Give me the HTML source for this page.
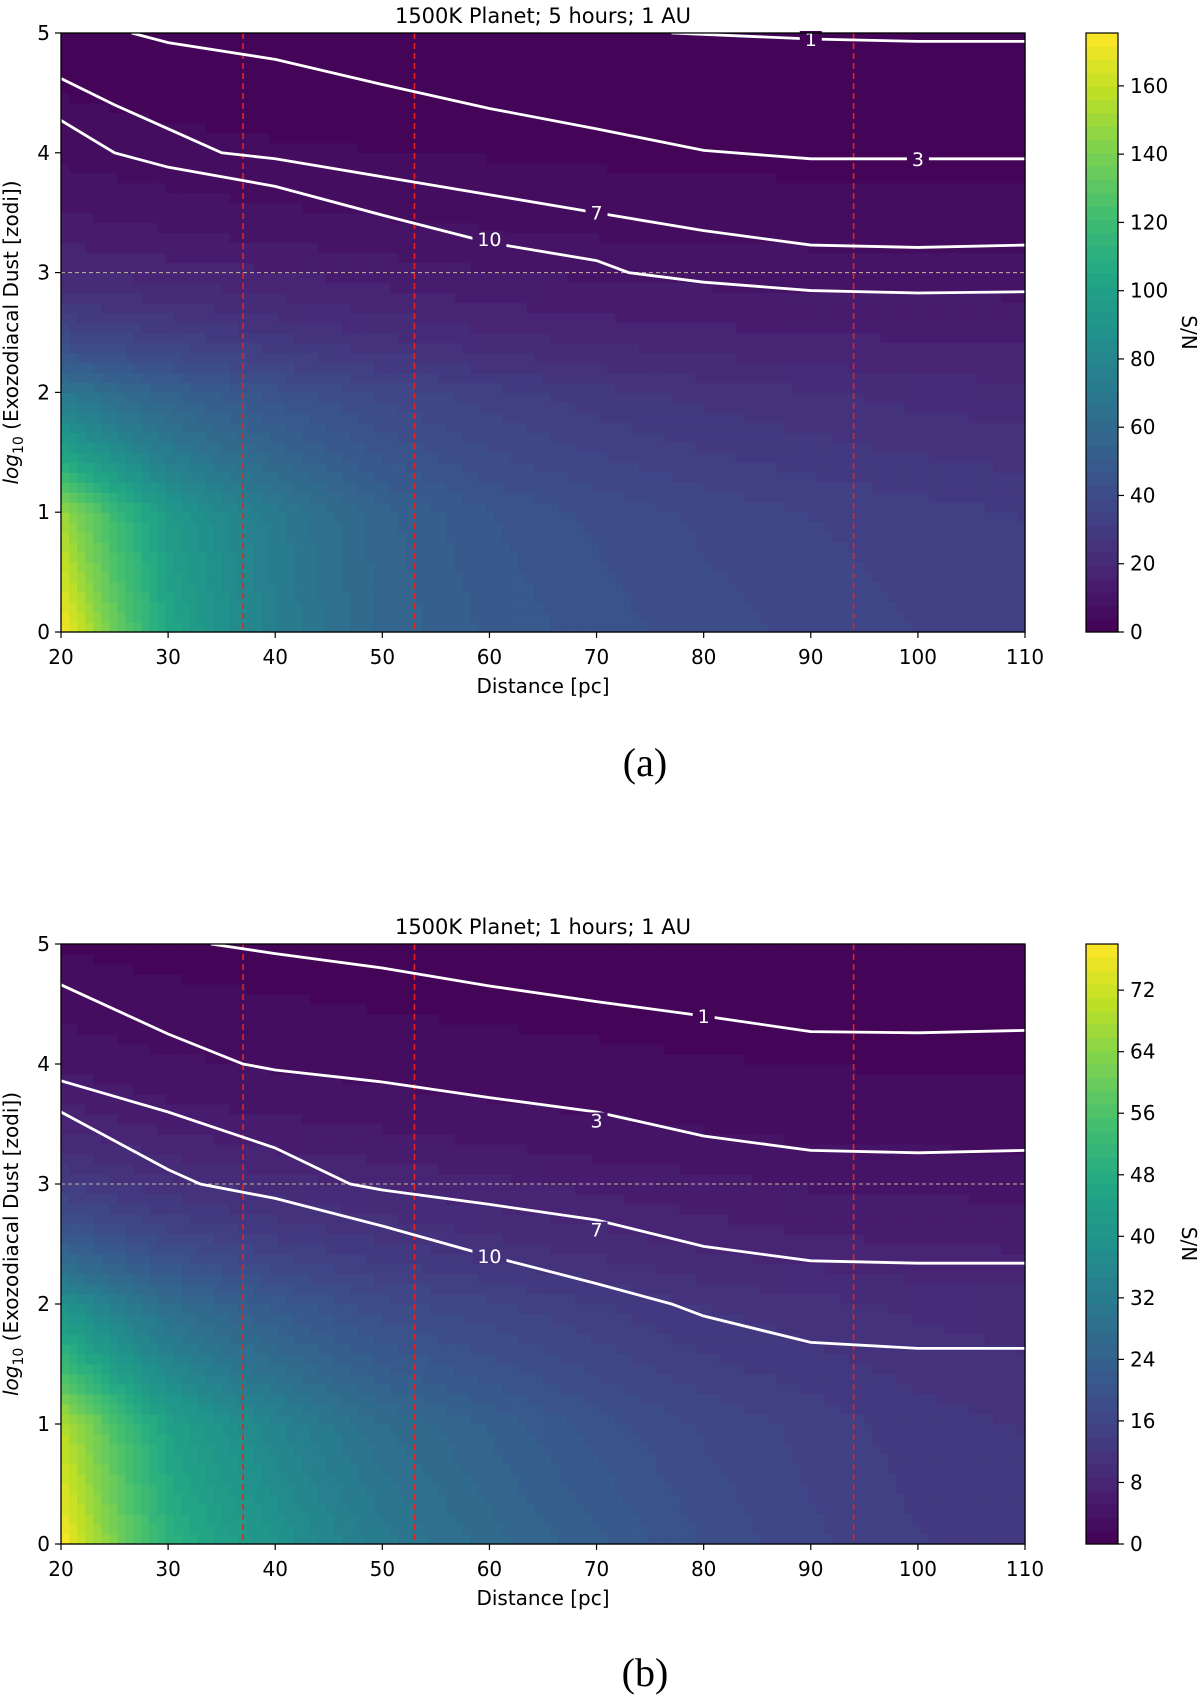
<!DOCTYPE html>
<html><head><meta charset="utf-8">
<style>
body{margin:0;background:#fff;width:1200px;height:1695px;overflow:hidden;font-family:"DejaVu Sans","Liberation Sans",sans-serif;}
svg text{font-family:"DejaVu Sans","Liberation Sans",sans-serif;}
</style></head>
<body>
<svg id="fig" width="1200" height="1695" viewBox="0 0 1200 1695" xmlns="http://www.w3.org/2000/svg"></svg>
<script>
// ---------- data ----------
const distances = [20,30,40,50,60,70,80,90,100,110];
const dustLevels = [0,1,2,3,4,5];
const snA_y0 = [175,105,75,58,50,45,41,38,35,33];
const snA_y1 = [150,95,72,56,47,42,38,35,33,31];
const snA_y2 = [70,55,45,38,33,29,26,24,22,21];
const snA_y3 = [20,18,16,14,12,11,10.5,10,10,10];
const snA_y4 = [7,5.5,4.5,4,3.7,3.4,3.1,3,3,3];
const snA_y5 = [2,1.5,1.3,1.2,1.1,1.05,1,1,1,1];
const snB_y0 = [78,50,40,32,27,23,19,16,14,13];
const snB_y1 = [70,45,35,28,24,20,17,15,13,12];
const snB_y2 = [40,28,22,18,16,14,12,11,10,9.5];
const snB_y3 = [14,11,9.5,8.5,7.5,6.5,5.8,5,4.8,4.7];
const snB_y4 = [5,3.8,3.3,2.9,2.5,2.2,1.9,1.7,1.6,1.6];
const snB_y5 = [1.6,1.3,1.1,0.9,0.8,0.7,0.6,0.5,0.5,0.5];
// contour lines: [distance, log dust]
const contA_1 = [[77,5],[90,4.95],[100,4.93],[110,4.93]];
const contA_3 = [[26.6,5],[30,4.92],[40,4.78],[50,4.57],[60,4.37],[70,4.2],[80,4.02],[90,3.95],[100,3.95],[110,3.95]];
const contA_7 = [[20,4.62],[25,4.4],[30,4.2],[35,4.0],[40,3.95],[50,3.8],[60,3.65],[70,3.5],[80,3.35],[90,3.23],[100,3.21],[110,3.23]];
const contA_10 = [[20,4.27],[25,4.0],[30,3.88],[40,3.72],[50,3.48],[60,3.25],[70,3.1],[73,3.0],[80,2.92],[90,2.85],[100,2.83],[110,2.84]];
const labelsA = [["1",90,4.95],["3",100,3.95],["7",70,3.5],["10",60,3.28]];
const contB_1 = [[34,5],[40,4.92],[50,4.8],[60,4.65],[70,4.52],[80,4.4],[90,4.27],[100,4.26],[110,4.28]];
const contB_3 = [[20,4.66],[30,4.25],[37,4.0],[40,3.95],[50,3.85],[60,3.72],[70,3.6],[80,3.4],[90,3.28],[100,3.26],[110,3.28]];
const contB_7 = [[20,3.86],[30,3.6],[40,3.3],[47,3.0],[50,2.95],[60,2.83],[70,2.7],[80,2.48],[90,2.36],[100,2.34],[110,2.34]];
const contB_10 = [[20,3.6],[30,3.12],[33,3.0],[40,2.88],[50,2.65],[60,2.4],[70,2.17],[77,2.0],[80,1.9],[90,1.68],[100,1.63],[110,1.63]];
const labelsB = [["1",80,4.4],["3",70,3.53],["7",70,2.62],["10",60,2.4]];
const redLines = [37,53,94];
const xTicks = [20,30,40,50,60,70,80,90,100,110];
const yTicks = [0,1,2,3,4,5];
const cbTicksA = [0,20,40,60,80,100,120,140,160];
const cbTicksB = [0,8,16,24,32,40,48,56,64,72];

// ---------- helpers ----------
const NS="http://www.w3.org/2000/svg";
const fig=document.getElementById('fig');
function mk(tag,attrs,parent){const e=document.createElementNS(NS,tag);for(const k in attrs)e.setAttribute(k,attrs[k]);(parent||fig).appendChild(e);return e;}
const VIR=[[68,1,84],[72,36,117],[65,68,135],[53,95,141],[42,120,142],[33,145,140],[34,168,132],[68,191,112],[122,209,81],[189,223,38],[253,231,37]];
function viridis(t){t=Math.max(0,Math.min(1,t));const f=t*(VIR.length-1);const i=Math.min(VIR.length-2,Math.floor(f));const u=f-i;const a=VIR[i],b=VIR[i+1];
return `rgb(${Math.round(a[0]+(b[0]-a[0])*u)},${Math.round(a[1]+(b[1]-a[1])*u)},${Math.round(a[2]+(b[2]-a[2])*u)})`;}
function field(rows,d,y){
  let ci=Math.max(0,Math.min(distances.length-2,Math.floor((d-20)/10))), u=(d-distances[ci])/10;
  let ri=Math.max(0,Math.min(dustLevels.length-2,Math.floor(y))), w=y-ri;
  const lv=(r,c)=>Math.log(rows[r][c]);
  return Math.exp((1-w)*((1-u)*lv(ri,ci)+u*lv(ri,ci+1))+w*((1-u)*lv(ri+1,ci)+u*lv(ri+1,ci+1)));
}

function drawPanel(o){
  const L=61,R=1025,T=o.top,B=o.bottom;
  const xs=d=>L+(d-20)/90*(R-L);
  const ys=v=>B-v/5*(B-T);
  const g=mk('g',{});
  
  
  const hm=mk('g',{},g);
  
  
  const rows=o.rows, nx=120, ny=60, step=o.vmax/45;
  const q=v=>Math.floor(v/step)*step+step/2;
  for(let j=0;j<ny;j++){
    for(let i=0;i<nx;i++){
      const d=20+(i+0.5)/nx*90, y=(j+0.5)/ny*5;
      const v=field(rows,d,y);
      const x0=xs(20+i/nx*90), x1=xs(20+(i+1)/nx*90), y0=ys((j+1)/ny*5), y1=ys(j/ny*5);
      mk('rect',{x:x0,y:y0,width:x1-x0+0.6,height:y1-y0+0.6,fill:viridis(q(v)/o.vmax)},hm);
    }
  }
  mk('line',{x1:L,x2:R,y1:ys(3),y2:ys(3),stroke:'#c8b89a','stroke-width':1,'stroke-dasharray':'4,3'},g);
  redLines.forEach(d=>{const l=mk('line',{x1:xs(d),x2:xs(d),y1:T,y2:B,stroke:'#e8211c','stroke-width':1.6,'stroke-dasharray':'6,4'},g);
    });
  o.conts.forEach(c=>{const p=mk('polyline',{points:c.map(pt=>xs(pt[0])+','+ys(pt[1])).join(' '),fill:'none',stroke:'#fff','stroke-width':2.8},g);
    });
  o.labels.forEach(lb=>{
    const cx=xs(lb[1]),cy=ys(lb[2]);
    const bw=lb[0].length*12+10;
    mk('rect',{x:cx-bw/2,y:cy-8,width:bw,height:16,fill:viridis(q(field(rows,lb[1],lb[2]))/o.vmax)},g);
    const t=mk('text',{x:cx,y:cy+7,'text-anchor':'middle','font-size':19,fill:'#fff'},g);t.textContent=lb[0];
    
  });
  mk('rect',{x:L,y:T,width:R-L,height:B-T,fill:'none',stroke:'#000','stroke-width':1.3},g);
  xTicks.forEach(v=>{mk('line',{x1:xs(v),x2:xs(v),y1:B,y2:B+6,stroke:'#000','stroke-width':1.2},g);
    const t=mk('text',{x:xs(v),y:B+32,'text-anchor':'middle','font-size':20},g);t.textContent=v;
    });
  yTicks.forEach(v=>{mk('line',{x1:L-6,x2:L,y1:ys(v),y2:ys(v),stroke:'#000','stroke-width':1.2},g);
    const t=mk('text',{x:L-11,y:ys(v)+7,'text-anchor':'end','font-size':20},g);t.textContent=v;
    });
  const tt=mk('text',{x:(L+R)/2,y:T-10,'text-anchor':'middle','font-size':21},g);tt.textContent=o.title;
  
  const xl=mk('text',{x:(L+R)/2,y:B+61,'text-anchor':'middle','font-size':20},g);xl.textContent='Distance [pc]';
  
  const yl=mk('text',{x:0,y:0,'text-anchor':'middle','font-size':20,transform:`translate(18,${(T+B)/2}) rotate(-90)`},g);
  yl.innerHTML='<tspan font-style="italic">log</tspan><tspan font-size="14" dy="5">10</tspan><tspan dy="-5"> (Exozodiacal Dust [zodi])</tspan>';
  
  const cL=1086,cR=1118;
  const cb=mk('g',{},g);
  const nb=45;
  for(let k=0;k<nb;k++){const y0=B-(k+1)/nb*(B-T),y1=B-k/nb*(B-T);
    mk('rect',{x:cL,y:y0,width:cR-cL,height:y1-y0+0.6,fill:viridis((k+0.5)/nb)},cb);}
  mk('rect',{x:cL,y:T,width:cR-cL,height:B-T,fill:'none',stroke:'#000','stroke-width':1.2},cb);
  o.cbTicks.forEach(v=>{const y=B-v/o.vmax*(B-T);
    mk('line',{x1:cR,x2:cR+6,y1:y,y2:y,stroke:'#000','stroke-width':1.2},cb);
    const t=mk('text',{x:cR+12,y:y+7,'font-size':20},cb);t.textContent=v;
    });
  const cl=mk('text',{x:0,y:0,'text-anchor':'middle','font-size':20,transform:`translate(1182,${(T+B)/2}) rotate(90)`},cb);cl.textContent='S/N';
  
  const cap=mk('text',{x:645,y:o.capY,'text-anchor':'middle','font-size':40},g);
  cap.setAttribute('style','font-family:"Liberation Serif",serif');cap.textContent=o.cap;
  
}
drawPanel({name:'panel-a',top:33,bottom:632,rows:[snA_y0,snA_y1,snA_y2,snA_y3,snA_y4,snA_y5],vmax:175.5,
  conts:[contA_1,contA_3,contA_7,contA_10],labels:labelsA,cbTicks:cbTicksA,title:'1500K Planet; 5 hours; 1 AU',cap:'(a)',capY:776});
drawPanel({name:'panel-b',top:944,bottom:1544,rows:[snB_y0,snB_y1,snB_y2,snB_y3,snB_y4,snB_y5],vmax:78,
  conts:[contB_1,contB_3,contB_7,contB_10],labels:labelsB,cbTicks:cbTicksB,title:'1500K Planet; 1 hours; 1 AU',cap:'(b)',capY:1686});
</script>
</body></html>
